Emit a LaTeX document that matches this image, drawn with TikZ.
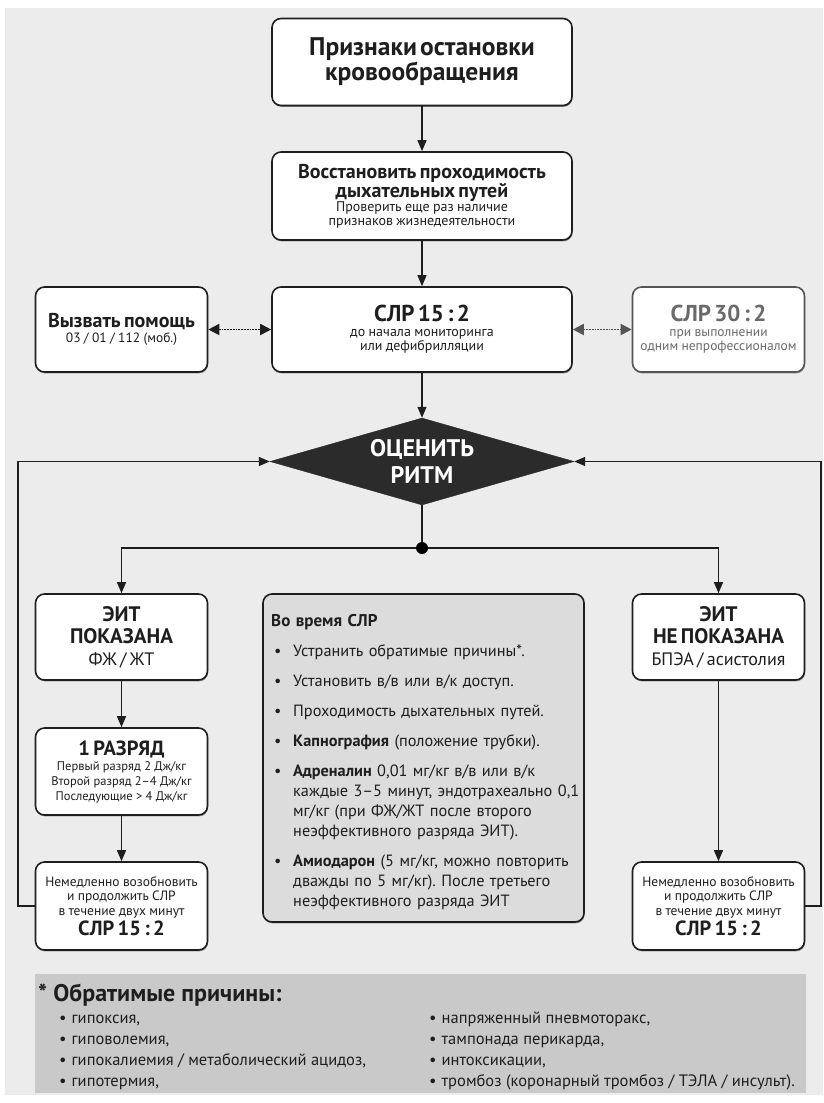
\documentclass[tikz,border=0pt]{standalone}
\usepackage{fontspec}
\setmainfont{PT Sans}
\usetikzlibrary{arrows.meta,shapes.geometric,shadows,calc}
\definecolor{bg}{HTML}{ECECEC}
\definecolor{ink}{HTML}{1E1E1E}
\definecolor{midfill}{HTML}{DCDCDC}
\definecolor{notefill}{HTML}{C9C9C9}
\definecolor{diafill}{HTML}{2B2B2B}
\definecolor{greytext}{HTML}{6A6A6A}
\definecolor{greyline}{HTML}{555555}
\frenchspacing
\newcommand{\fs}[2]{\fontsize{#1}{#2}\selectfont}
\newcommand{\midbul}[1]{\hangindent=22pt\hangafter=1\noindent\makebox[22pt][l]{\hspace{3pt}•}#1\par\vspace{10pt}}
\begin{document}
\begin{tikzpicture}[x=1pt,y=-1pt,
  every node/.style={text=ink},
  box/.style={draw=ink, line width=1.6pt, rounded corners=9pt, fill=white,
    align=center, inner sep=0pt,
    drop shadow={shadow xshift=0.6pt,shadow yshift=-1.4pt,fill=black!60,opacity=0.7}},
  wide/.style={box, minimum width=300pt, text width=294pt},
  side/.style={box, minimum width=172pt, text width=170pt},
  arr/.style={draw=ink, line width=1.2pt, -{Triangle[length=11pt,width=9pt]}},
  darr/.style={line width=1.8pt, densely dotted,
    {Triangle[length=11pt,width=11pt]}-{Triangle[length=11pt,width=11pt]}},
  notetxt/.style={anchor=base west, inner sep=0pt, font=\fs{16.5}{17}}
]
\useasboundingbox (0,0) rectangle (823,1103);
\fill[bg] (5,8) rectangle (823,1095);

% top chain
\node[wide, minimum height=87pt] (top) at (422,62)
  {\bfseries\fs{25.5}{25}Признаки остановки\\кровообращения\par};
\node[wide, minimum height=88pt] (airway) at (422,196)
  {{\bfseries\fs{20}{19}Восстановить проходимость\\дыхательных путей\par}
   {\fs{14}{13.5}Проверить еще раз наличие\\признаков жизнедеятельности\par}};
\node[wide, minimum height=85pt] (cpr) at (422,329.5)
  {{\bfseries\fs{23}{24}СЛР 15 : 2\par}\vspace{1pt}
   {\fs{14}{14}до начала мониторинга\\или дефибрилляции\par}};
\node[side, minimum height=85pt] (help) at (121.5,329.5)
  {{\bfseries\fs{20}{18}Вызвать помощь\par}
   {\fs{13.5}{15}03 / 01 / 112 (моб.)\par}};
\node[side, minimum height=85pt, draw=greyline] (lay) at (718.5,329.5)
  {{\color{greytext}\bfseries\fs{23}{24}СЛР 30 : 2\par}\vspace{1pt}
   {\color{greytext}\fs{13.5}{14}при выполнении\\одним непрофессионалом\par}};

\draw[arr] (top) -- (airway);
\draw[arr] (airway) -- (cpr);
\draw[darr, draw=ink, fill=ink] (help) -- (cpr);
\draw[darr, draw=greyline, fill=greyline] (cpr) -- (lay);

% rhythm check
\node[diamond, draw=diafill, fill=diafill, minimum width=304pt, minimum height=87pt,
      inner sep=0pt] (rhythm) at (422,461.5) {};
\node[text=white, align=center, font=\bfseries\fs{24}{27}] (rhythmtxt) at (rhythm.center)
  {ОЦЕНИТЬ\\РИТМ};
\draw[arr] (cpr) -- (rhythm);

\node[circle, fill=black, inner sep=0pt, minimum size=12pt] (split) at (422,548) {};
\draw[draw=ink, line width=1.2pt] (rhythm.south) -- (split);

% left branch
\node[side, minimum height=86pt] (shock) at (121.5,637)
  {{\bfseries\fs{21}{22}ЭИТ\\ПОКАЗАНА\par}
   {\fs{18}{22}ФЖ / ЖТ\par}};
\node[side, minimum height=87pt] (one) at (121.5,771.5)
  {{\bfseries\fs{20.5}{21}1 РАЗРЯД\par}
   {\fs{12.5}{15}Первый разряд 2 Дж/кг\\Второй разряд 2–4 Дж/кг\\Последующие > 4 Дж/кг\par}};
\node[side, minimum height=88pt] (resumeL) at (121.5,906)
  {{\fs{13.5}{14.5}Немедленно возобновить\\и продолжить СЛР\\в течение двух минут\par}
   {\bfseries\fs{20.5}{20}СЛР 15 : 2\par}};

% right branch
\node[side, minimum height=86pt] (noshock) at (718.5,637)
  {{\bfseries\fs{21}{22}ЭИТ\\НЕ ПОКАЗАНА\par}
   {\fs{18}{22}БПЭА / асистолия\par}};
\node[side, minimum height=88pt] (resumeR) at (718.5,906)
  {{\fs{13.5}{14.5}Немедленно возобновить\\и продолжить СЛР\\в течение двух минут\par}
   {\bfseries\fs{20.5}{20}СЛР 15 : 2\par}};

\draw[arr] (split) -| (shock.north);
\draw[arr] (split) -| (noshock.north);
\draw[arr] (shock) -- (one);
\draw[arr] (one) -- (resumeL);
\draw[arr] (noshock) -- (resumeR);

\coordinate (loopL) at (18,906);
\coordinate (loopR) at (821,906);
\draw[arr] (resumeL.west) -- (loopL) |- (rhythm.west);
\draw[arr] (resumeR.east) -- (loopR) |- (rhythm.east);

% during CPR box
\node[draw=ink, line width=1.6pt, rounded corners=9pt, fill=midfill,
      minimum width=321pt, minimum height=328pt, inner sep=0pt,
      drop shadow={shadow xshift=0.6pt,shadow yshift=-1.4pt,fill=black!60,opacity=0.7}]
      (during) at (423.5,758) {};
\node[anchor=base west, inner sep=0pt, text width=310pt, align=left,
      font=\fs{16.3}{20}] (duringtxt) at (271,626)
  {{\bfseries\fs{17}{20}Во время СЛР}\par\vspace{10pt}
   \midbul{Устранить обратимые причины*.}
   \midbul{Установить в/в или в/к доступ.}
   \midbul{Проходимость дыхательных путей.}
   \midbul{\textbf{Капнография} (положение трубки).}
   \midbul{\textbf{Адреналин} 0,01 мг/кг в/в или в/к\newline каждые 3–5 минут, эндотрахеально 0,1\newline мг/кг (при ФЖ/ЖТ после второго\newline неэффективного разряда ЭИТ).}
   \midbul{\textbf{Амиодарон} (5 мг/кг, можно повторить\newline дважды по 5 мг/кг). После третьего\newline неэффективного разряда ЭИТ}};

% reversible causes
\node[fill=notefill, minimum width=771pt, minimum height=119pt, inner sep=0pt]
  (causes) at (420.5,1033.5) {};
\node[anchor=base west, inner sep=0pt, font=\bfseries\fs{24}{24}] (causestitle)
  at (38,1001) {* Обратимые причины:};
\node[notetxt] (c1) at (59,1023) {•\hspace{5pt}гипоксия,};
\node[notetxt] (c2) at (59,1044) {•\hspace{5pt}гиповолемия,};
\node[notetxt] (c3) at (59,1065) {•\hspace{5pt}гипокалиемия / метаболический ацидоз,};
\node[notetxt] (c4) at (59,1086) {•\hspace{5pt}гипотермия,};
\node[notetxt] (c5) at (429,1023) {•\hspace{5pt}напряженный пневмоторакс,};
\node[notetxt] (c6) at (429,1044) {•\hspace{5pt}тампонада перикарда,};
\node[notetxt] (c7) at (429,1065) {•\hspace{5pt}интоксикации,};
\node[notetxt] (c8) at (429,1086) {•\hspace{5pt}тромбоз (коронарный тромбоз / ТЭЛА / инсульт).};
\end{tikzpicture}
\end{document}
